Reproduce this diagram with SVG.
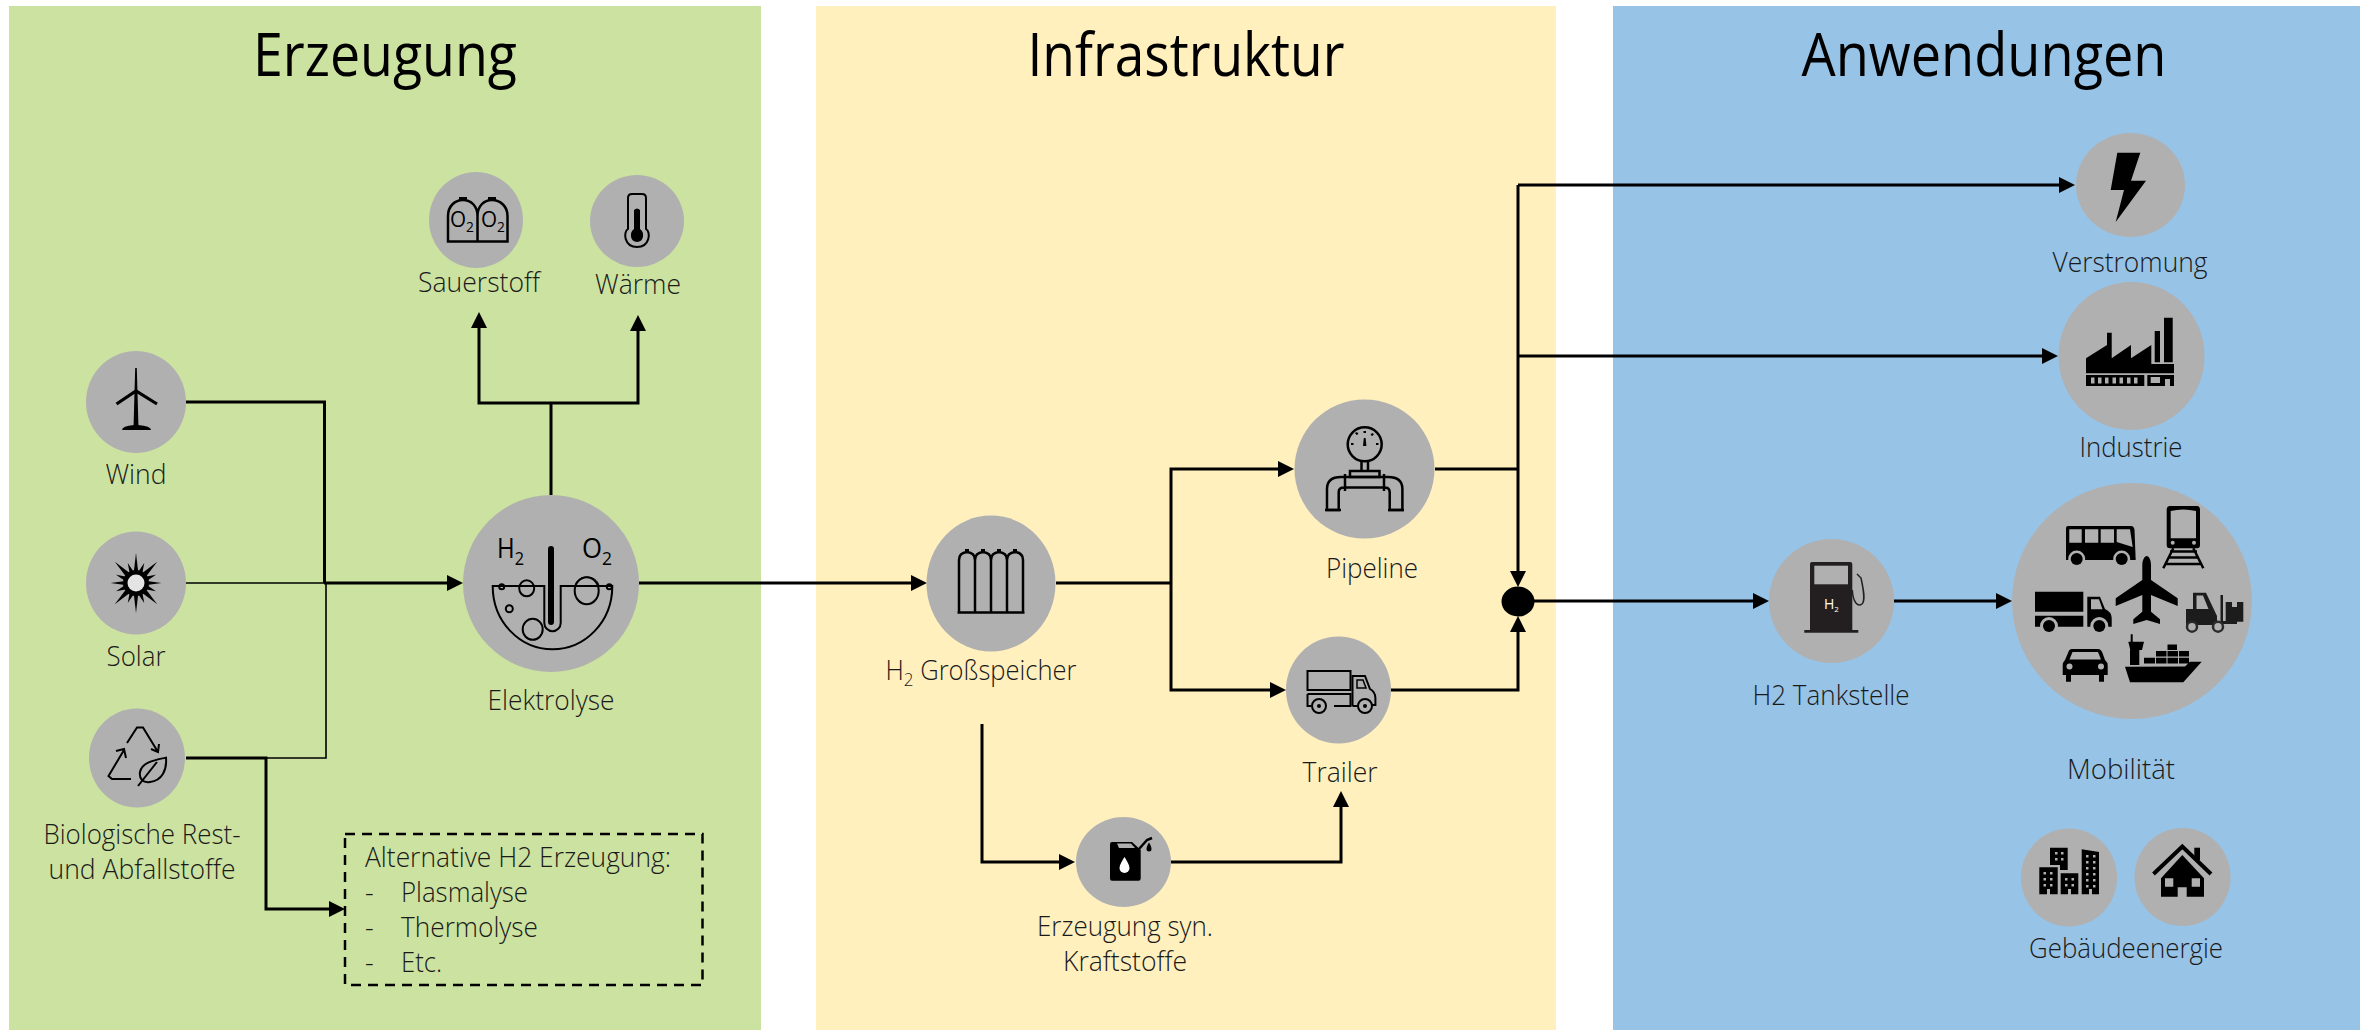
<svg xmlns="http://www.w3.org/2000/svg" xmlns:xlink="http://www.w3.org/1999/xlink" width="2364" height="1030" viewBox="0 0 2364 1030">
<style>
text{font-family:"Open Sans","Noto Sans","DejaVu Sans",sans-serif;font-weight:300;fill:#1a1a1a}
.lbl{font-size:27px;text-anchor:middle}
.box{font-size:27px}
.title{font-size:60px;text-anchor:middle;fill:#000;font-weight:400}
.node{fill:#b0b0b0}
.con{fill:none;stroke:#000;stroke-width:3}
.thin{stroke-width:1.6}
.ico{fill:none;stroke:#000;stroke-width:2.5}
.icot{fill:none;stroke:#000;stroke-width:2}
.k{fill:#000}
.g{fill:#b0b0b0}
.sym{font-size:28px;font-weight:400;fill:#000}
.sm{font-size:21px;font-weight:400;fill:#000}
</style>
<defs>
<marker id="arr" viewBox="0 0 16 16" refX="1" refY="8" markerWidth="16" markerHeight="16" markerUnits="userSpaceOnUse" orient="auto"><path d="M0 0L16 8L0 16Z"/></marker>
<path id="spk" d="M-3.500 0L0 -30L3.500 0Z"/>
</defs>

<g id="panels">
<rect x="9" y="6" width="752" height="1024" fill="#cce2a0"/>
<rect x="816" y="6" width="740" height="1024" fill="#fff0be"/>
<rect x="1613" y="6" width="747" height="1024" fill="#97c3e6"/>
<text class="title" x="385" y="76" textLength="264" lengthAdjust="spacingAndGlyphs">Erzeugung</text>
<text class="title" x="1186" y="76" textLength="317" lengthAdjust="spacingAndGlyphs">Infrastruktur</text>
<text class="title" x="1984" y="76" textLength="365" lengthAdjust="spacingAndGlyphs">Anwendungen</text>
</g>

<g id="connectors">
<path class="con" d="M186 402H324.500V583"/>
<path class="con thin" d="M186 583H324"/>
<path class="con" d="M324 583H448" marker-end="url(#arr)"/>
<path class="con thin" d="M266 758H326V583"/>
<path class="con" d="M186 758H266V909H330" marker-end="url(#arr)"/>
<path class="con" d="M551 495V403"/>
<path class="con" d="M551 403H479V327" marker-end="url(#arr)"/>
<path class="con" d="M551 403H638V330" marker-end="url(#arr)"/>
<path class="con" d="M639 583H912" marker-end="url(#arr)"/>
<path class="con" d="M1056 583H1171"/>
<path class="con" d="M1171 583V469H1279" marker-end="url(#arr)"/>
<path class="con" d="M1171 583V690H1271" marker-end="url(#arr)"/>
<path class="con" d="M1435 469H1518"/>
<path class="con" d="M1518 185V572" marker-end="url(#arr)"/>
<path class="con" d="M1518 185H2060" marker-end="url(#arr)"/>
<path class="con" d="M1518 356H2043" marker-end="url(#arr)"/>
<path class="con" d="M1391 690H1518V631" marker-end="url(#arr)"/>
<path class="con" d="M982 724V862H1060" marker-end="url(#arr)"/>
<path class="con" d="M1171 862H1341V806" marker-end="url(#arr)"/>
<path class="con" d="M1534 601H1754" marker-end="url(#arr)"/>
<path class="con" d="M1894 601H1997" marker-end="url(#arr)"/>
</g>

<g id="wind">
<ellipse class="node" cx="136" cy="402" rx="50" ry="51"/>
<path class="k" d="M135.200 368H136.800L138.500 428H133.500Z"/>
<path class="ico" style="stroke-width:3.200" d="M116.500 404L136 391L157 404"/>
<path class="k" d="M122 430Q122 426 134 425H138Q151 426 151 430Z"/>
<text class="lbl" x="136" y="484" textLength="61" lengthAdjust="spacingAndGlyphs">Wind</text>
</g>

<g id="solar">
<ellipse class="node" cx="136" cy="583" rx="50" ry="51.500"/>
<g transform="translate(136 583)">
<use xlink:href="#spk"/><use xlink:href="#spk" transform="rotate(180)"/>
<use xlink:href="#spk" transform="rotate(90) scale(1 .85)"/><use xlink:href="#spk" transform="rotate(270) scale(1 .85)"/>
<use xlink:href="#spk" transform="rotate(45) scale(1.200 1)"/><use xlink:href="#spk" transform="rotate(135) scale(1.200 1)"/><use xlink:href="#spk" transform="rotate(225) scale(1.200 1)"/><use xlink:href="#spk" transform="rotate(315) scale(1.200 1)"/>
<use xlink:href="#spk" transform="rotate(22.500) scale(1.300 .72)"/><use xlink:href="#spk" transform="rotate(67.500) scale(1.300 .72)"/><use xlink:href="#spk" transform="rotate(112.500) scale(1.300 .72)"/><use xlink:href="#spk" transform="rotate(157.500) scale(1.300 .72)"/><use xlink:href="#spk" transform="rotate(202.500) scale(1.300 .72)"/><use xlink:href="#spk" transform="rotate(247.500) scale(1.300 .72)"/><use xlink:href="#spk" transform="rotate(292.500) scale(1.300 .72)"/><use xlink:href="#spk" transform="rotate(337.500) scale(1.300 .72)"/>
<circle r="13" class="k"/><circle r="8.500" fill="#e4e4e4"/>
</g>
<text class="lbl" x="136" y="666" textLength="59" lengthAdjust="spacingAndGlyphs">Solar</text>
</g>

<g id="bio">
<ellipse class="node" cx="137" cy="758" rx="48" ry="49.500"/>
<path class="icot" d="M127 743L137 727.500H143L158 752M151 749L158 752L159 744"/>
<path class="icot" d="M131 779H112L108.500 776L124 750M116 751L124 749L126 758"/>
<path class="icot" d="M166 757.700C155 760 142 762 140 772C139 779 143 783 150 782C162 781 167 770 166 757.700Z"/>
<path class="icot" d="M138 786L157 762"/>
<text class="lbl" x="142" y="844" textLength="197" lengthAdjust="spacingAndGlyphs">Biologische Rest-</text>
<text class="lbl" x="142" y="879" textLength="187" lengthAdjust="spacingAndGlyphs">und Abfallstoffe</text>
</g>

<g id="elektrolyse">
<ellipse class="node" cx="551" cy="583.500" rx="88" ry="88.500"/>
<text class="sym" x="497" y="558" textLength="27" lengthAdjust="spacingAndGlyphs">H<tspan font-size="19" dy="7">2</tspan></text>
<text class="sym" x="582" y="558" textLength="30" lengthAdjust="spacingAndGlyphs">O<tspan font-size="19" dy="7">2</tspan></text>
<path class="icot" d="M492.700 586H544.300V623A8.200 8.200 0 0 0 560.700 623V586H612.300C612.300 622 585 649.300 552.500 649.300C520 649.300 492.700 622 492.700 586Z"/>
<path fill="none" stroke="#000" stroke-width="6" stroke-linecap="round" d="M551 549V622"/>
<ellipse class="node ico" style="stroke-width:2" cx="526.700" cy="588.300" rx="7.500" ry="8"/>
<ellipse class="node ico" style="stroke-width:2" cx="586.700" cy="590.700" rx="12" ry="13.500"/>
<path class="icot" style="stroke-width:1" d="M575 586C577 574 597 574 599 586"/>
<ellipse class="node ico" style="stroke-width:2" cx="509.300" cy="608.700" rx="3.500" ry="3.500"/>
<ellipse class="node ico" style="stroke-width:2" cx="532.700" cy="629.300" rx="10" ry="10.500"/>
<circle class="node ico" style="stroke-width:2" cx="501.700" cy="586.700" r="2.500"/>
<circle class="node ico" style="stroke-width:2" cx="609.300" cy="586.700" r="2.500"/>
<text class="lbl" x="551" y="710" textLength="127" lengthAdjust="spacingAndGlyphs">Elektrolyse</text>
</g>

<g id="sauerstoff">
<ellipse class="node" cx="476" cy="220" rx="47" ry="48"/>
<path class="ico" d="M448 241.500V216C448 206 455 200 463 200C471 200 477.500 206 477.500 216V241.500ZM477.500 216C477.500 206 484 200 492 200C500 200 507.500 206 507.500 216V241.500H477.500"/>
<path class="k" d="M459 197H467V201H459ZM488 197H496V201H488Z"/>
<text class="sm" x="450" y="227" textLength="24" lengthAdjust="spacingAndGlyphs">O<tspan font-size="14" dy="5">2</tspan></text>
<text class="sm" x="481" y="227" textLength="24" lengthAdjust="spacingAndGlyphs">O<tspan font-size="14" dy="5">2</tspan></text>
<text class="lbl" x="479" y="292" textLength="122" lengthAdjust="spacingAndGlyphs">Sauerstoff</text>
</g>

<g id="waerme">
<ellipse class="node" cx="637" cy="221" rx="47" ry="46"/>
<path class="icot" d="M628 229V198Q628 194 632 194H642Q646 194 646 198V229C651 232 650 247 637 247C624 247 623 232 628 229Z"/>
<path class="k" d="M634 210Q637 207 640 210V229C645 232 644 242 637 242C630 242 629 232 634 229Z"/>
<text class="lbl" x="638" y="294" textLength="86" lengthAdjust="spacingAndGlyphs">Wärme</text>
</g>

<g id="alternative">
<rect x="345" y="834" width="357.500" height="151" fill="none" stroke="#000" stroke-width="2.500" stroke-dasharray="10 7"/>
<text class="box" x="365" y="867" textLength="306" lengthAdjust="spacingAndGlyphs">Alternative H2 Erzeugung:</text>
<text class="box" x="365" y="902">-</text><text class="box" x="401" y="902" textLength="127" lengthAdjust="spacingAndGlyphs">Plasmalyse</text>
<text class="box" x="365" y="937">-</text><text class="box" x="401" y="937" textLength="137" lengthAdjust="spacingAndGlyphs">Thermolyse</text>
<text class="box" x="365" y="972">-</text><text class="box" x="401" y="972" textLength="41" lengthAdjust="spacingAndGlyphs">Etc.</text>
</g>

<g id="speicher">
<ellipse class="node" cx="991" cy="583.500" rx="64.500" ry="68"/>
<path class="ico" d="M959 612.500V560C959 555 962 552.500 967 552C972 552.500 975 555 975 560V612.500ZM975 612.500V560C975 555 978 552.500 983 552C988 552.500 991 555 991 560V612.500ZM991 612.500V560C991 555 994 552.500 999 552C1004 552.500 1007 555 1007 560V612.500ZM1007 612.500V560C1007 555 1010 552.500 1015 552C1020 552.500 1023 555 1023 560V612.500ZM957.500 612.500H1024.500"/>
<path class="k" d="M965 549h4v3.500h-4zM981 549h4v3.500h-4zM997 549h4v3.500h-4zM1013 549h4v3.500h-4z"/>
<text class="lbl" x="981" y="680" textLength="191" lengthAdjust="spacingAndGlyphs">H<tspan font-size="18" dy="6">2</tspan><tspan dy="-6"> Großspeicher</tspan></text>
</g>

<g id="pipeline">
<ellipse class="node" cx="1364.500" cy="469" rx="70" ry="69.500"/>
<circle class="ico" cx="1364.700" cy="444.300" r="17"/>
<path class="k" d="M1363.500 431h2.500v2h-2.500zM1363.800 438h1.800l.8 8h-3.400zM1351 443h2.500v2H1351zM1376 443h2.500v2H1376zM1355 433l2 -1l1.500 2l-2 1zM1372 433l2 1l-1.500 2l-2 -1z"/>
<path class="ico" d="M1361.500 461V471M1368 461V471M1350 471H1379.500V477H1350Z"/>
<path class="ico" d="M1327 510V489Q1327 477 1341 477H1388Q1402.400 477 1402.400 489V510H1389.700V492Q1389.700 487.400 1384.500 487.400H1344Q1338.700 487.400 1338.700 492V510ZM1345 474V491M1384 474V491"/>
<path class="ico" d="M1325 510H1341M1388 510H1404"/>
<text class="lbl" x="1372" y="578" textLength="92" lengthAdjust="spacingAndGlyphs">Pipeline</text>
</g>

<g id="trailer">
<ellipse class="node" cx="1338.500" cy="690" rx="52.500" ry="53.500"/>
<path class="ico" style="stroke-width:2" d="M1307.500 671H1350.500V690H1307.500ZM1307.500 694H1350.500V706H1334M1307.500 694V706H1311"/>
<path class="ico" style="stroke-width:2" d="M1352.500 706V676H1365L1370 689Q1375.400 692 1375.400 698V705H1372M1352.500 706H1358"/>
<path class="icot" style="stroke-width:1.500" d="M1357 680H1363L1366 688H1357Z"/>
<circle class="g" cx="1319" cy="706" r="7" stroke="#000" stroke-width="2"/><circle class="k" cx="1319" cy="706" r="2"/>
<circle class="g" cx="1365" cy="706" r="7" stroke="#000" stroke-width="2"/><circle class="k" cx="1365" cy="706" r="2"/>
<text class="lbl" x="1340" y="782" textLength="75" lengthAdjust="spacingAndGlyphs">Trailer</text>
</g>

<g id="synkraft">
<ellipse class="node" cx="1123.500" cy="862" rx="47.500" ry="45"/>
<path class="k" d="M1112 842H1132L1140.700 850V878.500Q1140.700 880.700 1138.500 880.700H1112Q1110 880.700 1110 878.500V844Q1110 842 1112 842Z"/>
<path fill="#fff" d="M1124.500 857C1127 861 1129.500 865 1129.500 868A5 5 0 0 1 1119.500 868C1119.500 865 1122 861 1124.500 857Z"/>
<path class="g" d="M1117 843.500H1131L1135 848H1119Z"/>
<path class="ico" d="M1139 849L1147 840L1152 838"/>
<path class="k" d="M1149 842.500C1150.500 845 1151.500 847 1151.500 849A2.500 2.500 0 0 1 1146.500 849C1146.500 847 1147.500 845 1149 842.500Z"/>
<text class="lbl" x="1125" y="936" textLength="176" lengthAdjust="spacingAndGlyphs">Erzeugung syn.</text>
<text class="lbl" x="1125" y="971" textLength="124" lengthAdjust="spacingAndGlyphs">Kraftstoffe</text>
</g>

<ellipse id="junction" class="k" cx="1518" cy="601.500" rx="16.500" ry="15"/>

<g id="verstromung">
<ellipse class="node" cx="2130.500" cy="185" rx="54.500" ry="52"/>
<path class="k" d="M2117.300 152.700H2140.300L2131 180.700H2146L2115.700 222L2124 190H2110.700Z"/>
<text class="lbl" x="2130" y="272" textLength="155" lengthAdjust="spacingAndGlyphs">Verstromung</text>
</g>

<g id="industrie">
<ellipse class="node" cx="2131.500" cy="356" rx="73" ry="74"/>
<path class="k" d="M2086 358.300L2107 345V332.700H2111.700V358.300L2131 345V358.300L2151.300 345V364H2174V373.300H2086ZM2154.700 331H2160V362.300H2154.700ZM2164 317.700H2172.700V362.300H2164ZM2086 375H2144.300V386H2086ZM2147.300 375H2174V386H2147.300Z"/>
<path class="g" d="M2091 377.500h3.500v6h-3.500zM2098 377.500h3.500v6h-3.500zM2105 377.500h3.500v6h-3.500zM2112.500 377.500h3.500v6h-3.500zM2119.500 377.500h3.500v6h-3.500zM2127 377.500h3.500v6h-3.500zM2134 377.500h3.500v6h-3.500zM2150.700 377H2160V383H2150.700ZM2165 379H2170V386H2165Z"/>
<text class="lbl" x="2131" y="457" textLength="103" lengthAdjust="spacingAndGlyphs">Industrie</text>
</g>

<g id="tankstelle">
<ellipse class="node" cx="1831.500" cy="601" rx="62.500" ry="62"/>
<path fill="#231f20" d="M1810 564Q1810 562 1812 562H1850Q1852.300 562 1852.300 564V630H1858.300V632.700H1804.300V630H1810Z"/>
<rect class="g" x="1814.300" y="565.700" width="33.700" height="18.600"/>
<path fill="none" stroke="#231f20" stroke-width="1.500" d="M1852.300 590C1853 603 1858 607 1862 604C1866 600 1863 588 1861 578L1857 574"/>
<text x="1824" y="608.500" style="font-size:14px;font-weight:400;fill:#fff">H<tspan font-size="8" dy="3">2</tspan></text>
<text class="lbl" x="1831" y="705" textLength="157" lengthAdjust="spacingAndGlyphs">H2 Tankstelle</text>
</g>

<g id="mobilitaet">
<ellipse class="node" cx="2132" cy="601" rx="120" ry="118"/>
<path class="k" d="M2068 526H2131Q2134 526 2134.500 530L2135.700 560H2066V528Q2066 526 2068 526Z"/>
<path class="g" d="M2069.300 529.300H2081.700V542.700H2069.300ZM2085 529.300H2098.300V542.700H2085ZM2100.700 529.300H2114V542.700H2100.700ZM2116.700 529.300H2130L2132.700 547L2116.700 542Z"/>
<circle class="g" cx="2076.700" cy="559" r="8.500"/><circle class="k" cx="2076.700" cy="559" r="6"/>
<circle class="g" cx="2121.700" cy="559" r="8.500"/><circle class="k" cx="2121.700" cy="559" r="6"/>
<path class="k" d="M2170 506H2197Q2200 506 2200 510V545Q2200 548.300 2197 548.300H2170Q2166.700 548.300 2166.700 545V510Q2166.700 506 2170 506Z"/>
<path class="g" d="M2170.700 511Q2183 508 2196 511V538.300H2170.700Z"/>
<circle class="g" cx="2172.700" cy="542.700" r="2"/><circle class="g" cx="2194" cy="542.700" r="2"/>
<path class="ico" d="M2173.300 548.300L2163.300 568.300M2193.300 548.300L2203.300 568.300M2170 551.500H2197M2168 557.500H2199M2165 564H2202"/>
<path class="k" d="M2146.700 556C2149 556 2151 560 2151 565V580L2177.700 598.300V606L2151 595V611.700L2160 619.300V624L2146.700 620L2133.300 624V619.300L2142.300 611.700V595L2115.700 606V598.300L2142.300 580V565C2142.300 560 2144.500 556 2146.700 556Z"/>
<path class="k" d="M2035 591.700H2083.300V611.700H2035ZM2035 615.700H2083.300V626.700H2035ZM2087.300 596.700H2100L2105 609Q2111.700 612 2111.700 618V626.700H2087.300Z"/>
<path class="g" d="M2091 599.300H2099L2102.500 609.300H2091Z"/>
<circle class="g" cx="2049" cy="626" r="9"/><circle class="k" cx="2049" cy="626" r="6"/>
<circle class="g" cx="2099.300" cy="626" r="9"/><circle class="k" cx="2099.300" cy="626" r="6"/>
<path fill="#1c1c1c" d="M2186 609H2193V592.700H2206L2217 616V625H2186ZM2196.500 595.500V609H2208.500L2203 595.500ZM2220.500 595H2223V621H2237V624H2220.500ZM2225.700 602H2232V607H2237V602H2243.300V621.700H2225.700Z"/>
<circle class="g" cx="2192" cy="626.700" r="5" stroke="#2a2a2a" stroke-width="2.500"/>
<circle class="g" cx="2218" cy="626.700" r="5" stroke="#2a2a2a" stroke-width="2.500"/>
<path class="k" d="M2072 649H2098Q2101 649 2102.500 653L2105 660Q2107.700 662 2107.700 666V675H2104V681.700H2099V675H2071V681.700H2066V675H2062.700V666Q2062.700 662 2065 660L2068 653Q2069 649 2072 649Z"/>
<path class="g" d="M2072.500 652H2098L2101 659.500H2069.500Z"/>
<circle class="g" cx="2069.500" cy="666.500" r="3"/><circle class="g" cx="2101" cy="666.500" r="3"/>
<path class="k" d="M2125 666.700L2185 666.500L2190 661.700H2201.700L2183.300 682.300H2130ZM2130.700 634.300H2132.700V641.700H2144L2142 650H2139.300V665H2130V650H2130.300L2128.300 641.700H2130.700ZM2144 657.700H2155V663.500H2144ZM2156 657.700H2166.500V663.500H2156ZM2167.500 657.700H2178V663.500H2167.500ZM2156 651H2166.500V656.500H2156ZM2167.500 651H2178V656.500H2167.500ZM2179 651H2189V656.500H2179ZM2179 657.700H2189V663.500H2179ZM2167.500 644.500H2177V650H2167.500Z"/>
<text class="lbl" x="2121" y="779" textLength="108" lengthAdjust="spacingAndGlyphs">Mobilität</text>
</g>

<g id="gebaeude">
<ellipse class="node" cx="2069" cy="877.500" rx="48" ry="49"/>
<ellipse class="node" cx="2182.500" cy="877" rx="48" ry="49"/>
<path class="k" d="M2050 847.700H2067.700V870H2060V865H2050ZM2039.300 867.300H2057.700V894.300H2050V889H2047V894.300H2039.300ZM2060.700 873.300H2078.300V894.300H2071V889H2068V894.300H2060.700ZM2081.700 849.300L2099 852V894.300H2092V889H2089V894.300H2081.700Z"/>
<path class="g" d="M2055 852h2.500v2.500H2055zM2061 852h2.500v2.500H2061zM2055 858h2.500v2.500H2055zM2061 858h2.500v2.500H2061zM2043.500 872h2.500v2.500h-2.500zM2050 872h2.500v2.500H2050zM2043.500 878h2.500v2.500h-2.500zM2050 878h2.500v2.500H2050zM2043.500 884h2.500v2.500h-2.500zM2050 884h2.500v2.500H2050zM2065 878h2.500v2.500H2065zM2071.500 878h2.500v2.500h-2.500zM2065 884h2.500v2.500H2065zM2071.500 884h2.500v2.500h-2.500zM2086 855h2.500v2.500H2086zM2093 855h2.500v2.500H2093zM2086 861h2.500v2.500H2086zM2093 861h2.500v2.500H2093zM2086 867h2.500v2.500H2086zM2093 867h2.500v2.500H2093zM2086 873h2.500v2.500H2086zM2093 873h2.500v2.500H2093zM2086 879h2.500v2.500H2086zM2093 879h2.500v2.500H2093zM2086 885h2.500v2.500H2086zM2093 885h2.500v2.500H2093z"/>
<path fill="none" stroke="#000" stroke-width="4" d="M2153.500 874L2182.300 846.500L2211 874"/>
<path class="k" d="M2194.300 847.700H2200V860H2194.300Z"/>
<path class="k" d="M2161 878.300L2182.300 855L2204 878.300V896.700H2186.700V887.300H2177.700V896.700H2161Z"/>
<path class="g" d="M2165 878.300H2173.300V886.700H2165ZM2191.700 878.300H2200V886.700H2191.700Z"/>
<text class="lbl" x="2126" y="958" textLength="194" lengthAdjust="spacingAndGlyphs">Gebäudeenergie</text>
</g>
</svg>
